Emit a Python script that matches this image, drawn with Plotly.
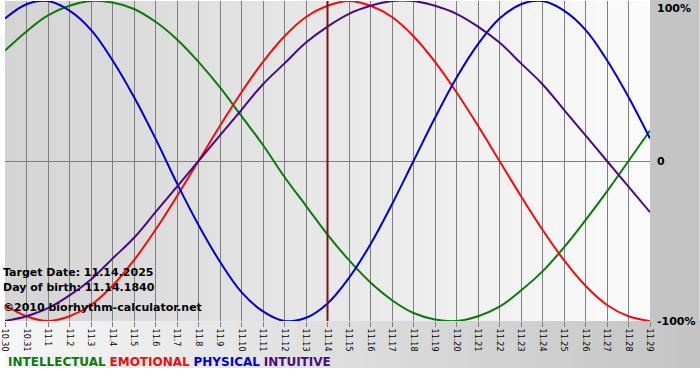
import plotly.graph_objects as go

# ---- data ----
dates = ["10.30", "10.31", "11.1", "11.2", "11.3", "11.4", "11.5", "11.6", "11.7", "11.8",
         "11.9", "11.10", "11.11", "11.12", "11.13", "11.14", "11.15", "11.16", "11.17",
         "11.18", "11.19", "11.20", "11.21", "11.22", "11.23", "11.24", "11.25", "11.26",
         "11.27", "11.28", "11.29"]

physical = [0.89, 0.98, 1.00, 0.94, 0.82, 0.63, 0.40, 0.14, -0.14, -0.40, -0.63, -0.82,
            -0.94, -1.00, -0.98, -0.89, -0.73, -0.52, -0.27, 0.00, 0.27, 0.52, 0.73, 0.89,
            0.98, 1.00, 0.94, 0.82, 0.63, 0.40, 0.14]

emotional = [-0.90, -0.97, -1.00, -0.97, -0.90, -0.78, -0.62, -0.43, -0.22, 0.00, 0.22,
             0.43, 0.62, 0.78, 0.90, 0.97, 1.00, 0.97, 0.90, 0.78, 0.62, 0.43, 0.22, 0.00,
             -0.22, -0.43, -0.62, -0.78, -0.90, -0.97, -1.00]

intellectual = [0.69, 0.81, 0.91, 0.97, 1.00, 0.99, 0.95, 0.87, 0.76, 0.62, 0.46, 0.28,
                0.10, -0.10, -0.28, -0.46, -0.62, -0.76, -0.87, -0.95, -0.99, -1.00, -0.97,
                -0.91, -0.81, -0.69, -0.54, -0.37, -0.19, 0.00, 0.19]

intuitive = [-1.00, -0.97, -0.92, -0.84, -0.74, -0.61, -0.48, -0.32, -0.16, 0.00, 0.16,
             0.32, 0.48, 0.61, 0.74, 0.84, 0.92, 0.97, 1.00, 1.00, 0.97, 0.92, 0.84, 0.74,
             0.61, 0.48, 0.32, 0.16, 0.00, -0.16, -0.32]

target_day = "11.14"
y_ticks = [1, 0, -1]
y_labels = ["100%", "0", "-100%"]

series = [
    ("INTELLECTUAL", intellectual, "#0a7a0a"),
    ("EMOTIONAL", emotional, "#ee0e0e"),
    ("PHYSICAL", physical, "#0000d0"),
    ("INTUITIVE", intuitive, "#4b0a82"),
]

W, H = 700, 380
ML, MR, MT, MB = 0, 50, 1, 59
ph = H - MT - MB
pw = W - ML - MR

fig = go.Figure()

for name, vals, col in series:
    fig.add_trace(go.Scatter(x=dates, y=vals, mode="lines", name=name,
                             line=dict(color=col, width=2, shape="spline", smoothing=1.1),
                             showlegend=False))

fig.add_trace(go.Scatter(x=[target_day, target_day], y=[-1, 1], mode="lines",
                         line=dict(color="#7a1414", width=2), hoverinfo="skip",
                         showlegend=False))

shapes = []
# plot background gradient (dark left -> light right)
n = 60
for i in range(n):
    t = (i + 0.5) / n
    v = int(round(212 + (251 - 212) * t))
    shapes.append(dict(type="rect", xref="paper", yref="paper",
                       x0=i / n, x1=(i + 1) / n + 0.002, y0=0, y1=1,
                       fillcolor=f"rgb({v},{v},{v})", line=dict(width=0), layer="below"))
# bottom band gradient (light left -> dark right)
yb = -(368 - (H - MB)) / ph
xr = W / pw
for i in range(n):
    t = (i + 0.5) / n
    v = int(round(246 + (196 - 246) * t))
    shapes.append(dict(type="rect", xref="paper", yref="paper",
                       x0=i / n * xr, x1=(i + 1) / n * xr + 0.002, y0=yb, y1=0,
                       fillcolor=f"rgb({v},{v},{v})", line=dict(width=0), layer="below"))
# right margin
shapes.append(dict(type="rect", xref="paper", yref="paper", x0=1, x1=xr, y0=0, y1=1 + MT / ph,
                   fillcolor="rgb(196,196,196)", line=dict(width=0), layer="below"))

annotations = []
info = ["Target Date: 11.14.2025", "Day of birth: 11.14.1840", "©2010 biorhythm-calculator.net"]
info_y = [272, 287, 307]
for txt, py in zip(info, info_y):
    annotations.append(dict(text=f"<b>{txt}</b>", xref="paper", yref="paper",
                            x=0, y=(H - MB - py) / ph, xanchor="left",
                            yanchor="middle", showarrow=False, xshift=-4,
                            font=dict(family="DejaVu Sans", size=11, color="black")))

for lab, yv in zip(y_labels, y_ticks):
    yshift = -7 if yv == 1 else 0
    annotations.append(dict(text=f"<b>{lab}</b>", xref="paper", yref="y", x=1, y=yv,
                            xanchor="left", yanchor="middle", xshift=5, yshift=yshift,
                            showarrow=False,
                            font=dict(family="DejaVu Sans", size=11, color="black")))

legend_html = "&nbsp;".join(f"<span style='color:{c}'><b>{nm}</b></span>" for nm, _, c in series)
annotations.append(dict(text=legend_html, xref="paper", yref="paper", x=0,
                        y=(H - MB - 362) / ph, xanchor="left", yanchor="middle", xshift=1,
                        showarrow=False, font=dict(family="DejaVu Sans", size=12)))

fig.update_layout(
    width=W, height=H, autosize=False,
    margin=dict(l=ML, r=MR, t=MT, b=MB, pad=0),
    paper_bgcolor="white", plot_bgcolor="rgba(0,0,0,0)",
    showlegend=False,
    shapes=shapes, annotations=annotations,
    xaxis=dict(type="category", categoryorder="array", categoryarray=dates,
               range=[0, len(dates) - 1], tickangle=90,
               showgrid=True, gridcolor="#7f7f7f", gridwidth=1,
               ticks="outside", ticklen=5, tickcolor="#7f7f7f",
               showline=False, zeroline=False,
               tickfont=dict(family="DejaVu Sans", size=8, color="black")),
    yaxis=dict(range=[-1, 1], tickvals=y_ticks, showticklabels=False,
               showgrid=True, gridcolor="#7f7f7f", gridwidth=1, zeroline=False,
               showline=False, ticks=""),
)

fig.write_html("out.html")
